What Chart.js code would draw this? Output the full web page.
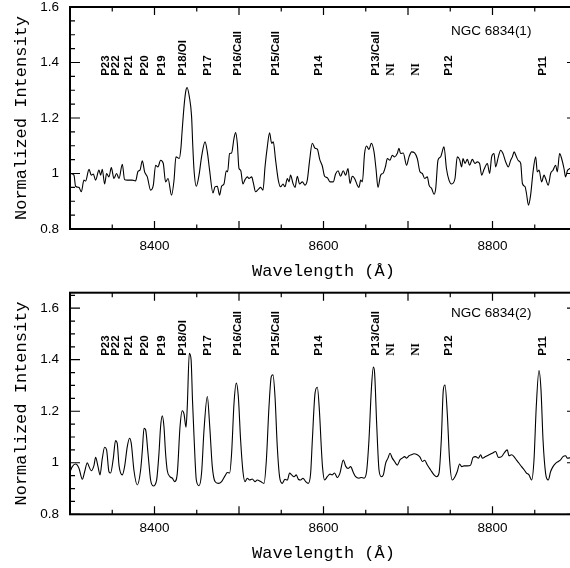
<!DOCTYPE html>
<html>
<head>
<meta charset="utf-8">
<script src="https://cdn.jsdelivr.net/npm/chart.js@4.4.0/dist/chart.umd.min.js"></script>
<style>
  html, body { margin: 0; padding: 0; background: #fff; overflow: hidden; }
  canvas { position: absolute; left: 0; }
</style>
</head>
<body>
<canvas id="topChart" width="580" height="284" style="top:0"></canvas>
<canvas id="bottomChart" width="580" height="284" style="top:284px"></canvas>
<script>
// spectrum 1 (upper panel)
const waveTop = [8300, 8304.7, 8306.6, 8310.6, 8313.4, 8316.5, 8318.5, 8322.5, 8325.2, 8327.6, 8330.3, 8334.3, 8336.3, 8338.2, 8341, 8343.3, 8346.1, 8348.9, 8352, 8355.1, 8358, 8361.9, 8364.6, 8367.8, 8373.7, 8377.6, 8380.5, 8382.8, 8385.6, 8388.3, 8391.5, 8395.4, 8398.6, 8401.3, 8404.1, 8407.2, 8410.4, 8413.1, 8416, 8420.2, 8423.1, 8425.4, 8429.3, 8431.4, 8432.5, 8435.3, 8437.3, 8438.5, 8441.2, 8443.9, 8445.3, 8446.8, 8449.5, 8452.7, 8455.7, 8459.8, 8462.5, 8465.2, 8469.2, 8471.6, 8474.3, 8477, 8479.4, 8482.2, 8485, 8486.5, 8488.9, 8491.2, 8494.1, 8496, 8498, 8500, 8501.9, 8504.7, 8507.1, 8509.8, 8511.8, 8515, 8517, 8519.6, 8522.8, 8525.6, 8528.4, 8530.8, 8533.5, 8536.2, 8538.6, 8540.6, 8543.3, 8546.5, 8549.2, 8552.1, 8554.4, 8557.2, 8559.2, 8561, 8563.9, 8566.3, 8569, 8571.7, 8575, 8578.1, 8580.8, 8583.6, 8586.7, 8590, 8592.7, 8595.6, 8598.6, 8601.3, 8604.5, 8607.7, 8611.6, 8614.3, 8617.2, 8620.2, 8623.4, 8626.2, 8629, 8631.4, 8634.1, 8636.8, 8640, 8642, 8644, 8646, 8648.6, 8651, 8653.8, 8656.6, 8659.8, 8662.1, 8664.5, 8667.6, 8670.8, 8673.5, 8675.5, 8678.7, 8681.4, 8684.1, 8687.3, 8689.3, 8691.2, 8694.4, 8698.3, 8701.2, 8704.3, 8707.8, 8711, 8714.2, 8717, 8719.7, 8722.9, 8724.9, 8728, 8730.8, 8732.8, 8735.5, 8738.6, 8742.6, 8745.5, 8748.5, 8751.6, 8755.6, 8758.3, 8761.1, 8763.5, 8765.1, 8767.5, 8770.2, 8772.9, 8776.1, 8779.3, 8782, 8784.7, 8787.2, 8790, 8793.9, 8796.6, 8799, 8801.8, 8803.7, 8806.9, 8809.6, 8812.4, 8815.6, 8818.8, 8821.5, 8823.5, 8825.6, 8828.3, 8830.7, 8833.4, 8835.4, 8838.6, 8840.2, 8842.6, 8845.1, 8848, 8851.1, 8853, 8855.1, 8858.1, 8861, 8862.8, 8866, 8868.8, 8871.6, 8874.7, 8876.7, 8879.4, 8881.8, 8884.6, 8886.5, 8888.9, 8895, 8900];
const fluxTop = [1.000, 0.994, 0.954, 0.950, 0.934, 0.976, 0.973, 1.015, 0.994, 0.998, 0.976, 1.012, 0.994, 1.015, 0.962, 1.000, 0.988, 1.021, 0.982, 1.000, 0.982, 1.033, 0.978, 0.976, 0.976, 0.973, 1.008, 1.012, 1.046, 1.006, 0.988, 0.940, 0.958, 1.030, 1.024, 1.048, 1.036, 0.970, 0.982, 0.922, 0.976, 1.060, 1.054, 1.096, 1.145, 1.253, 1.301, 1.310, 1.277, 1.205, 1.100, 1.012, 0.954, 0.994, 1.060, 1.114, 1.078, 1.012, 0.930, 0.952, 0.954, 0.922, 0.954, 0.962, 1.010, 1.006, 1.072, 1.074, 1.127, 1.148, 1.109, 1.018, 1.012, 0.962, 0.978, 0.988, 0.982, 0.988, 0.966, 0.934, 0.943, 0.950, 0.940, 1.024, 1.096, 1.147, 1.109, 1.114, 1.048, 0.976, 0.952, 0.962, 0.952, 0.982, 0.970, 0.994, 0.964, 0.950, 0.990, 0.962, 0.970, 0.958, 0.976, 1.048, 1.109, 1.091, 1.088, 1.050, 1.027, 0.990, 0.985, 0.970, 0.970, 0.998, 1.010, 0.990, 1.010, 0.994, 1.018, 0.964, 0.990, 0.982, 0.958, 0.950, 0.976, 0.970, 1.072, 1.099, 1.087, 1.109, 1.078, 1.018, 0.950, 0.994, 1.002, 1.027, 1.054, 1.048, 1.066, 1.060, 1.072, 1.091, 1.072, 1.074, 1.030, 1.060, 1.078, 1.074, 1.054, 1.006, 1.000, 0.982, 0.988, 0.958, 0.946, 0.925, 0.946, 1.048, 1.060, 1.096, 1.018, 0.976, 0.962, 0.982, 1.060, 1.050, 1.024, 1.054, 1.036, 1.051, 1.030, 1.051, 1.036, 1.042, 1.036, 0.994, 1.015, 1.036, 1.000, 1.060, 1.072, 1.024, 1.060, 1.084, 1.072, 1.042, 1.024, 1.048, 1.060, 1.078, 1.060, 1.046, 1.036, 0.964, 0.952, 0.928, 0.886, 0.922, 1.006, 1.060, 1.006, 1.012, 0.970, 0.994, 0.982, 0.958, 1.000, 1.012, 1.030, 1.006, 1.072, 1.054, 1.018, 0.988, 1.012, 1.020, 1.000];

// spectrum 2 (lower panel)
const waveBottom = [8300, 8302.7, 8306.6, 8310.6, 8314.6, 8317.3, 8320.5, 8322.5, 8325.2, 8328.4, 8330.3, 8333.1, 8335.5, 8338.2, 8341, 8343.3, 8346.1, 8348, 8351.2, 8353.9, 8355.9, 8358, 8361.9, 8364.6, 8367.8, 8370.5, 8372.5, 8375.7, 8379.6, 8383.5, 8385.6, 8387.6, 8389.5, 8392.3, 8395.4, 8398.6, 8402.5, 8405.3, 8407.2, 8409.2, 8411.2, 8413.1, 8415.1, 8418.3, 8421.1, 8423.8, 8427, 8430.2, 8432.9, 8434.9, 8437.3, 8438.8, 8441.2, 8443.3, 8445, 8446.8, 8449.5, 8452.7, 8455.7, 8458.6, 8462.5, 8465.2, 8468.4, 8471.6, 8475.5, 8479.4, 8483.4, 8486.2, 8488.9, 8491.3, 8494.1, 8496.8, 8499.2, 8501.9, 8504.7, 8507.1, 8509.8, 8512.5, 8515.7, 8518.9, 8521.6, 8525.6, 8529.6, 8532.4, 8535.5, 8538.2, 8540.2, 8542.6, 8545.3, 8548, 8551.2, 8554.4, 8557.2, 8559.9, 8562.3, 8565.1, 8567.8, 8570.2, 8572.9, 8575.7, 8578.9, 8582, 8584.8, 8586.8, 8590, 8592.7, 8595.2, 8597.4, 8598.8, 8601.3, 8604.5, 8607.7, 8610.4, 8613.1, 8616.3, 8619.5, 8623.4, 8626.2, 8629, 8632.1, 8635.3, 8638, 8642, 8644.7, 8647.9, 8651, 8653.8, 8656.6, 8659, 8660.5, 8662.9, 8665.7, 8668.5, 8670.8, 8673.5, 8676.3, 8678.7, 8681.4, 8684.1, 8687.3, 8690.5, 8693.2, 8696, 8698.3, 8701.2, 8703.9, 8707.1, 8711, 8714.2, 8717, 8719.7, 8722.9, 8726.8, 8730.8, 8733.9, 8736.7, 8739.4, 8741.8, 8743.8, 8746.5, 8749.2, 8752.4, 8755.6, 8758.3, 8761.1, 8763.5, 8766.3, 8770.2, 8774.1, 8777, 8780, 8783.3, 8786, 8788, 8791.8, 8795.9, 8799.8, 8803.7, 8806.9, 8810.8, 8813.6, 8817.5, 8819.5, 8822.6, 8825.4, 8828.2, 8831.4, 8834.4, 8837.6, 8840.2, 8843.2, 8846.3, 8849.1, 8851.8, 8855, 8857.4, 8859.8, 8862.8, 8866, 8868.8, 8871.6, 8874.7, 8877.9, 8880.6, 8883.4, 8886.5, 8888.5, 8894, 8900];
const fluxBottom = [0.965, 0.985, 0.995, 0.979, 0.936, 0.965, 1.000, 0.985, 0.969, 0.990, 1.021, 0.986, 0.953, 1.016, 1.060, 1.050, 0.965, 0.960, 1.016, 1.086, 1.075, 0.990, 0.953, 0.985, 1.063, 1.095, 1.075, 0.970, 0.914, 0.970, 1.048, 1.134, 1.128, 1.037, 0.933, 0.910, 0.933, 1.037, 1.140, 1.182, 1.140, 1.037, 0.970, 0.946, 0.940, 0.927, 0.960, 1.140, 1.202, 1.190, 1.138, 1.218, 1.425, 1.400, 1.240, 1.100, 0.933, 0.911, 0.960, 1.127, 1.257, 1.150, 0.985, 0.927, 0.920, 0.927, 0.949, 0.962, 0.960, 1.040, 1.231, 1.309, 1.257, 1.088, 0.965, 0.927, 0.940, 0.933, 0.937, 0.927, 0.933, 0.927, 0.920, 1.011, 1.218, 1.334, 1.341, 1.257, 1.063, 0.946, 0.920, 0.936, 0.933, 0.960, 0.953, 0.946, 0.953, 0.936, 0.933, 0.940, 0.927, 0.920, 0.960, 1.088, 1.270, 1.293, 1.200, 1.060, 0.985, 0.933, 0.946, 0.956, 0.953, 0.960, 0.943, 0.960, 1.011, 0.987, 0.978, 0.985, 0.962, 0.946, 0.940, 0.943, 0.940, 0.966, 1.088, 1.283, 1.371, 1.348, 1.153, 0.972, 0.946, 0.953, 0.998, 1.018, 1.037, 1.018, 1.005, 0.991, 1.011, 1.018, 1.024, 1.018, 1.027, 1.031, 1.035, 1.031, 1.022, 1.005, 1.010, 0.991, 0.972, 0.953, 0.946, 0.960, 1.088, 1.283, 1.302, 1.190, 1.011, 0.933, 0.946, 0.966, 0.995, 0.985, 0.988, 0.988, 0.991, 1.021, 1.024, 1.018, 1.031, 1.018, 1.024, 1.031, 1.037, 1.044, 1.021, 1.024, 1.037, 1.050, 1.027, 1.031, 1.024, 1.011, 0.998, 0.985, 0.972, 0.960, 0.953, 0.933, 1.011, 1.218, 1.358, 1.283, 1.088, 0.960, 0.933, 0.966, 0.985, 0.998, 1.005, 1.011, 1.024, 1.027, 1.018, 1.020, 1.010];

// line identifications
const lineNames = ['P23', 'P22', 'P21', 'P20', 'P19', 'P18/OI', 'P17', 'P16/CaII', 'P15/CaII', 'P14', 'P13/CaII', 'NI', 'NI', 'P12', 'P11'];
const lineWaves = [8342, 8354.5, 8370, 8389, 8409, 8434, 8463, 8499, 8543, 8595, 8662, 8680, 8709, 8748, 8860];

const xTickLabels = [8400, 8600, 8800];
const yTickLabels = [0.8, 1, 1.2, 1.4, 1.6];
const panelNames = ['NGC 6834(1)', 'NGC 6834(2)'];

const framePlugin = {
  id: 'frame',
  afterDatasetsDraw(chart, args, opts) {
    const { ctx, chartArea: a, scales: { x, y } } = chart;
    ctx.save();
    ctx.strokeStyle = '#000';
    ctx.fillStyle = '#000';

    // inward tick marks on all four sides
    ctx.lineWidth = 1.2;
    ctx.beginPath();
    for (let w = 8300; w <= x.max; w += 50) {
      const px = x.getPixelForValue(w);
      const len = w % 100 === 0 ? 8 : 4.5;
      ctx.moveTo(px, a.bottom); ctx.lineTo(px, a.bottom - len);
      ctx.moveTo(px, a.top); ctx.lineTo(px, a.top + len);
    }
    for (let i = 16; i * 0.05 <= y.max + 1e-9; i++) {
      const py = y.getPixelForValue(i * 0.05);
      const len = i % 4 === 0 ? 10 : 5;
      ctx.moveTo(a.left, py); ctx.lineTo(a.left + len, py);
      ctx.moveTo(a.right, py); ctx.lineTo(a.right - len, py);
    }
    ctx.stroke();

    ctx.lineWidth = 2;
    ctx.strokeRect(a.left, a.top, a.right - a.left, a.bottom - a.top);

    // line labels, written upward
    lineNames.forEach((name, i) => {
      const px = x.getPixelForValue(lineWaves[i]);
      const py = y.getPixelForValue(opts.labelBase);
      ctx.save();
      ctx.translate(px, py);
      ctx.rotate(-Math.PI / 2);
      ctx.font = name === 'NI' ? 'bold 11.5px "Liberation Serif"' : 'bold 11.5px "Liberation Sans"';
      ctx.textAlign = 'left';
      ctx.textBaseline = 'middle';
      ctx.fillText(name, 0, 0);
      ctx.restore();
    });

    ctx.font = '13.5px "Liberation Sans"';
    ctx.textAlign = 'left';
    ctx.textBaseline = 'middle';
    ctx.fillText(opts.name, x.getPixelForValue(8751), y.getPixelForValue(opts.nameY));
    ctx.restore();
  }
};

function makeChart(id, waves, flux, cfg) {
  return new Chart(document.getElementById(id), {
    type: 'line',
    data: {
      datasets: [{
        data: waves.map((w, i) => ({ x: w, y: flux[i] })),
        borderColor: '#000',
        borderWidth: 1.1,
        pointRadius: 0,
        fill: false,
        cubicInterpolationMode: 'monotone'
      }]
    },
    options: {
      responsive: false,
      animation: false,
      layout: { padding: { top: cfg.padTop, right: 3, left: 0, bottom: 0 } },
      plugins: {
        legend: { display: false },
        tooltip: { enabled: false },
        frame: { labelBase: cfg.labelBase, name: cfg.name, nameY: cfg.nameY }
      },
      scales: {
        x: {
          type: 'linear',
          min: 8300,
          max: 8900,
          grid: { display: false, drawTicks: false },
          border: { display: false },
          afterBuildTicks: s => { s.ticks = xTickLabels.map(v => ({ value: v })); },
          afterFit: s => { s.height = cfg.xHeight; s.paddingLeft = 0; s.paddingRight = 0; },
          ticks: {
            padding: cfg.xTickPad,
            color: '#000',
            maxRotation: 0,
            autoSkip: false,
            font: { family: 'Liberation Sans', size: 13.5 },
            callback: v => String(v)
          },
          title: {
            display: true,
            text: 'Wavelength (Å)',
            color: '#000',
            font: { family: 'Liberation Mono', size: 17, lineHeight: 1 },
            padding: { top: 0, bottom: cfg.xTitlePad }
          }
        },
        y: {
          min: 0.8,
          max: cfg.yMax,
          grid: { display: false, drawTicks: false },
          border: { display: false },
          afterBuildTicks: s => { s.ticks = yTickLabels.map(v => ({ value: v })); },
          afterFit: s => { s.width = 70; s.paddingTop = 0; s.paddingBottom = 0; },
          ticks: {
            padding: 11,
            color: '#000',
            font: { family: 'Liberation Sans', size: 13.5 },
            callback: v => String(+v.toFixed(2))
          },
          title: {
            display: true,
            text: 'Normalized Intensity',
            color: '#000',
            font: { family: 'Liberation Mono', size: 17, lineHeight: 1 },
            padding: { top: 12.5, bottom: 0 }
          }
        }
      }
    },
    plugins: [framePlugin]
  });
}

makeChart('topChart', waveTop, fluxTop, {
  padTop: 7, xHeight: 55, xTickPad: 9.4, xTitlePad: 4.5, yMax: 1.6,
  labelBase: 1.352, name: panelNames[0], nameY: 1.512
});
makeChart('bottomChart', waveBottom, fluxBottom, {
  padTop: 8.7, xHeight: 53.7, xTickPad: 5.6, xTitlePad: 6.5, yMax: 1.66,
  labelBase: 1.415, name: panelNames[1], nameY: 1.581
});
</script>
</body>
</html>
